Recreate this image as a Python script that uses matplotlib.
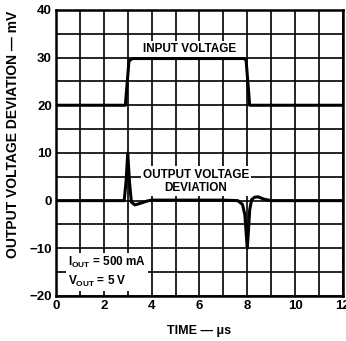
import numpy as np
import matplotlib.pyplot as plt

# datos
t_in = [0, 2.9, 3.05, 3.2, 7.85, 7.95, 8.1, 12]
v_in = [20, 20, 29.3, 29.8, 29.8, 29.5, 20, 20]

t_out = [0, 2.85, 2.93, 3.0, 3.07, 3.15, 3.3, 3.5, 3.8, 4.0, 4.5, 7.0, 7.6, 7.8, 7.9,
         7.97, 8.0, 8.04, 8.1, 8.18, 8.3, 8.45, 8.7, 9.0, 12]
v_out = [0, 0, 4, 10, 4, -0.3, -0.9, -0.6, -0.1, 0.1, 0.1, 0.1, 0, -0.8, -3,
         -8, -10, -7, -2, 0.2, 0.7, 0.8, 0.3, 0, 0]

x_ticks = [0, 2, 4, 6, 8, 10, 12]
y_ticks = [-20, -10, 0, 10, 20, 30, 40]

plt.rcParams['font.family'] = ['Liberation Sans', 'DejaVu Sans']
fig = plt.figure(figsize=(3.46, 3.41), dpi=100)
ax = fig.add_axes([0.162, 0.132, 0.829, 0.839])

ax.plot(t_in, v_in, color='black', lw=2.2, zorder=3)
ax.plot(t_out, v_out, color='black', lw=2.2, zorder=3)

ax.set_xlim(0, 12)
ax.set_ylim(-20, 40)
ax.set_xticks(x_ticks)
ax.set_yticks(y_ticks)
ax.set_xticks(np.arange(0, 13, 1), minor=True)
ax.set_yticks(np.arange(-20, 41, 5), minor=True)
ax.grid(True, which='both', color='black', lw=1.2)
ax.tick_params(which='both', length=0, labelsize=9.5, pad=3)
for lab in ax.get_xticklabels() + ax.get_yticklabels():
    lab.set_fontweight('bold')
for s in ax.spines.values():
    s.set_linewidth(1.8)

ax.set_xlabel('TIME — μs', fontsize=9, fontweight='bold', labelpad=9)
ax.set_ylabel('OUTPUT VOLTAGE DEVIATION — mV', fontsize=10, fontweight='bold')
ax.yaxis.set_label_coords(-0.125, 0.565)

box = dict(facecolor='white', edgecolor='none', pad=1.5)
ax.text(5.6, 31.8, 'INPUT VOLTAGE', ha='center', va='center', fontsize=8.5,
        fontweight='bold', bbox=box, zorder=4)
ax.text(5.85, 4.1, 'OUTPUT VOLTAGE\nDEVIATION', ha='center', va='center', fontsize=8.5,
        fontweight='bold', bbox=box, zorder=4, linespacing=1.1)
ax.text(0.5, -15.0, '$\\mathregular{I_{OUT}}$ = 500 mA\n$\\mathregular{V_{OUT}}$ = 5 V',
        ha='left', va='center', fontsize=8.5, fontweight='bold', bbox=box, zorder=4,
        linespacing=1.3)

fig.savefig('out.png', dpi=100)
